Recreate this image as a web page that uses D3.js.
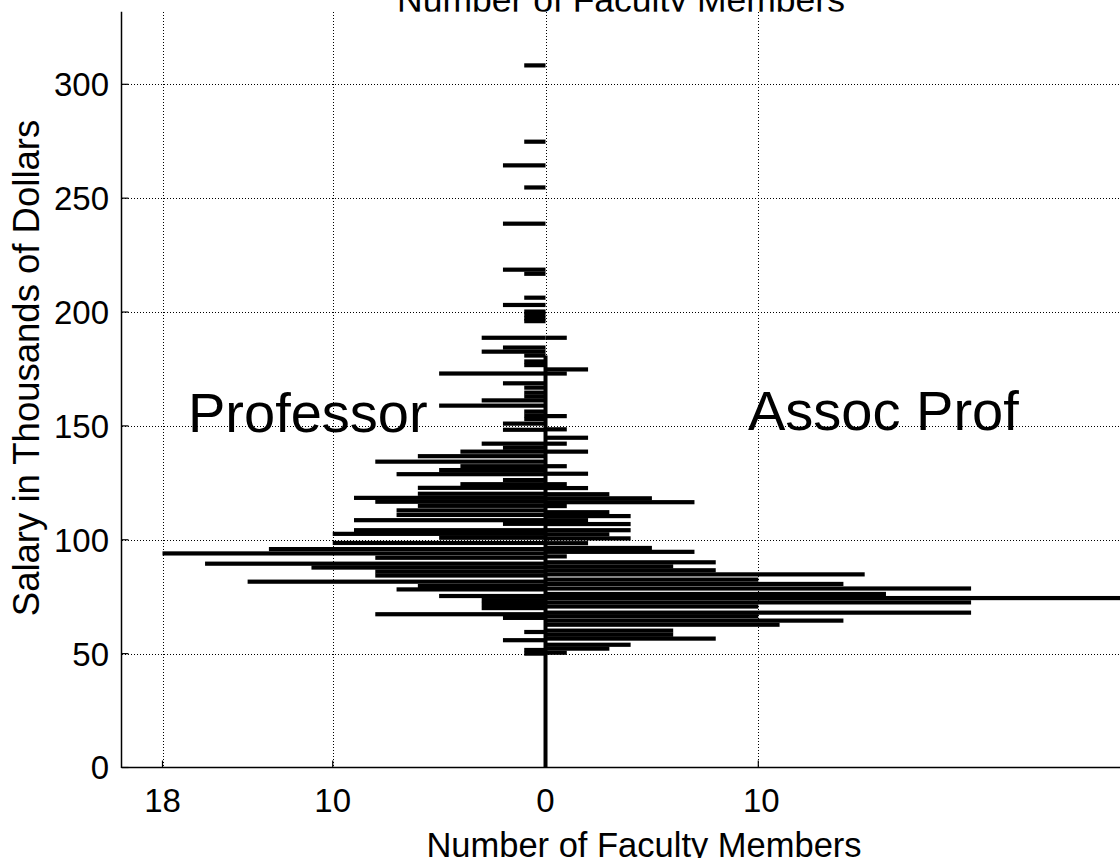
<!DOCTYPE html>
<html>
<head>
<meta charset="utf-8">
<script src="https://cdn.jsdelivr.net/npm/d3@7"></script>
<style>
  html, body { margin: 0; padding: 0; background: #fff; }
  svg { display: block; font-family: "Liberation Sans", Arial, Helvetica, sans-serif; }
</style>
</head>
<body>
<svg id="chart" width="1120" height="858"></svg>
<script>
// ---- Data ----
// Professor (left side): salary (k$) and number of faculty
const profSalary = [308.3, 274.8, 264.4, 254.7, 238.8, 218.6, 216.8, 206.3, 203.1, 200.2, 198.7, 197.2, 196.0,
  188.7, 184.4, 182.6, 180.9, 178.3, 176.7, 173.0, 168.7, 166.8, 164.6, 162.9, 161.2, 158.9, 156.3, 154.6, 153.0,
  151.0, 148.3, 142.2, 140.4, 138.7, 136.7, 134.3, 132.3, 130.6, 128.8, 126.2, 124.4, 122.8, 120.2, 118.4, 116.7,
  114.9, 112.9, 110.9, 108.6, 107.0, 104.2, 102.6, 100.9, 98.6, 95.9, 94.0, 92.1, 89.5, 87.8, 86.0, 84.3, 81.6,
  79.7, 78.2, 75.3, 73.5, 71.8, 70.0, 67.3, 65.7, 59.5, 55.9, 51.6, 50.0];
const profCount = [1, 1, 2, 1, 2, 2, 1, 1, 2, 1, 1, 1, 1,
  3, 2, 3, 1, 1, 1, 5, 2, 1, 1, 1, 3, 5, 1, 1, 1,
  2, 2, 3, 2, 4, 6, 8, 4, 5, 7, 2, 4, 6, 6, 9, 8,
  6, 7, 7, 9, 2, 9, 10, 5, 10, 13, 18, 8, 16, 11, 8, 8, 14,
  6, 7, 5, 3, 3, 3, 8, 2, 1, 2, 1, 1];

// Associate Professor (right side)
const assocSalary = [188.7, 174.8, 173.0, 154.3, 148.5, 144.8, 142.2, 138.7, 132.3, 129.0, 124.4, 122.7, 120.0,
  118.2, 116.5, 114.8, 112.1, 110.4, 108.6, 106.9, 104.2, 102.4, 100.6, 98.5, 96.4, 94.7, 92.7, 90.1, 88.3, 86.6,
  84.8, 82.5, 80.6, 78.6, 76.2, 74.4, 72.5, 70.7, 68.0, 66.4, 64.5, 62.7, 60.1, 58.3, 56.6, 53.9, 52.2, 50.4];
const assocCount = [1, 2, 1, 1, 1, 2, 1, 2, 1, 2, 1, 2, 3,
  5, 7, 1, 3, 4, 2, 4, 4, 3, 4, 2, 5, 7, 1, 8, 6, 8,
  15, 10, 14, 20, 16, 28, 20, 10, 20, 10, 14, 11, 6, 6, 8, 4, 3, 1];

// Baseline (zero line) extent in salary
const baselineRange = [0, 180.9];

// Axes ticks
const xTicks = [-18, -10, 0, 10];
const xTickLabels = ["18", "10", "0", "10"];
const yTicks = [0, 50, 100, 150, 200, 250, 300];
const yTickLabels = ["0", "50", "100", "150", "200", "250", "300"];

// Texts
const xTitle = "Number of Faculty Members";
const yTitle = "Salary in Thousands of Dollars";
const leftLabel = "Professor";
const rightLabel = "Assoc Prof";

// ---- Layout ----
const W = 1120, H = 858;
const plotLeft = 121.5, plotTop = 11.7, plotRight = 1125, plotBottom = 767.5;

const x = d3.scaleLinear().domain([-18, 10]).range([162.5, 758.3]);
const y = d3.scaleLinear().domain([0, 300]).range([767.5, 84.3]);

const svg = d3.select("#chart");
svg.append("rect").attr("width", W).attr("height", H).attr("fill", "#fff");

// Top title (partially hidden behind the axes box)
svg.append("text")
  .attr("x", 621).attr("y", 11.5)
  .attr("text-anchor", "middle")
  .attr("font-size", 35.5)
  .attr("fill", "#000")
  .text(xTitle);

// Axes background
svg.append("rect")
  .attr("x", plotLeft).attr("y", plotTop)
  .attr("width", plotRight - plotLeft).attr("height", plotBottom - plotTop)
  .attr("fill", "#fff");

const g = svg.append("g");

// Grid lines (dotted)
g.selectAll("line.vgrid").data(xTicks).join("line")
  .attr("class", "vgrid")
  .attr("x1", d => Math.round(x(d)) + 0.5).attr("x2", d => Math.round(x(d)) + 0.5)
  .attr("y1", plotTop).attr("y2", plotBottom)
  .attr("stroke", "#000").attr("stroke-width", 1)
  .attr("shape-rendering", "crispEdges")
  .attr("stroke-dasharray", "1,2");

g.selectAll("line.hgrid").data(yTicks.filter(d => d > 0)).join("line")
  .attr("class", "hgrid")
  .attr("x1", plotLeft).attr("x2", plotRight)
  .attr("y1", d => Math.round(y(d)) + 0.5).attr("y2", d => Math.round(y(d)) + 0.5)
  .attr("stroke", "#000").attr("stroke-width", 1)
  .attr("shape-rendering", "crispEdges")
  .attr("stroke-dasharray", "1,2");

// Labels inside the plot
g.append("text")
  .attr("x", 188).attr("y", 431.5)
  .attr("font-size", 56).attr("fill", "#000")
  .text(leftLabel);
g.append("text")
  .attr("x", 748).attr("y", 430)
  .attr("font-size", 56).attr("fill", "#000")
  .text(rightLabel);

// Bars
const barH = 4.2;
const prof = profSalary.map((s, i) => ({ s, c: profCount[i] }));
const assoc = assocSalary.map((s, i) => ({ s, c: assocCount[i] }));

g.selectAll("rect.prof").data(prof).join("rect")
  .attr("class", "prof")
  .attr("x", d => x(-d.c))
  .attr("width", d => x(0) - x(-d.c))
  .attr("y", d => y(d.s) - barH / 2)
  .attr("height", barH)
  .attr("fill", "#000");

g.selectAll("rect.assoc").data(assoc).join("rect")
  .attr("class", "assoc")
  .attr("x", x(0))
  .attr("width", d => x(d.c) - x(0))
  .attr("y", d => y(d.s) - barH / 2)
  .attr("height", barH)
  .attr("fill", "#000");

// Zero baseline
g.append("line")
  .attr("x1", x(0)).attr("x2", x(0))
  .attr("y1", y(baselineRange[0])).attr("y2", y(baselineRange[1]))
  .attr("stroke", "#000").attr("stroke-width", 4);

// Axes lines
svg.append("line")
  .attr("x1", plotLeft).attr("x2", plotLeft)
  .attr("y1", plotTop).attr("y2", plotBottom + 0.5)
  .attr("stroke", "#000").attr("stroke-width", 1.5);
svg.append("line")
  .attr("x1", plotLeft).attr("x2", plotRight)
  .attr("y1", plotBottom).attr("y2", plotBottom)
  .attr("stroke", "#000").attr("stroke-width", 1.5);

// Tick marks
const tickLen = 7;
svg.selectAll("line.ytick").data(yTicks).join("line")
  .attr("class", "ytick")
  .attr("x1", plotLeft).attr("x2", plotLeft + tickLen)
  .attr("y1", d => y(d)).attr("y2", d => y(d))
  .attr("stroke", "#000").attr("stroke-width", 1.2);
svg.selectAll("line.xtick").data(xTicks).join("line")
  .attr("class", "xtick")
  .attr("x1", d => x(d)).attr("x2", d => x(d))
  .attr("y1", plotBottom).attr("y2", plotBottom - tickLen)
  .attr("stroke", "#000").attr("stroke-width", 1.2);

// Tick labels
svg.selectAll("text.ylab").data(yTicks).join("text")
  .attr("class", "ylab")
  .attr("x", 109).attr("y", d => y(d))
  .attr("dy", "0.36em")
  .attr("text-anchor", "end")
  .attr("font-size", 33).attr("fill", "#000")
  .text((d, i) => yTickLabels[i]);

svg.selectAll("text.xlab").data(xTicks).join("text")
  .attr("class", "xlab")
  .attr("x", d => x(d) + (d > 0 ? 3 : 0)).attr("y", 811.5)
  .attr("text-anchor", "middle")
  .attr("font-size", 33).attr("fill", "#000")
  .text((d, i) => xTickLabels[i]);

// Axis titles
svg.append("text")
  .attr("x", 644).attr("y", 857)
  .attr("text-anchor", "middle")
  .attr("font-size", 34.5).attr("fill", "#000")
  .text(xTitle);

svg.append("text")
  .attr("transform", "translate(39,368) rotate(-90)")
  .attr("text-anchor", "middle")
  .attr("font-size", 36.5).attr("fill", "#000")
  .text(yTitle);
</script>
</body>
</html>
